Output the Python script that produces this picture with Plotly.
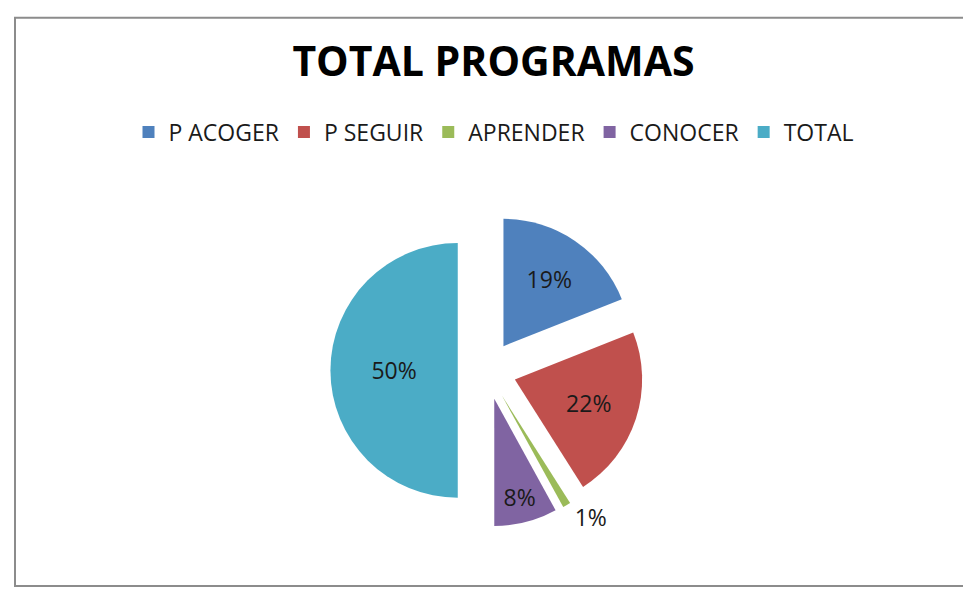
import plotly.graph_objects as go

# slice data
categorias = ["P ACOGER", "P SEGUIR", "APRENDER", "CONOCER", "TOTAL"]
valores = [19, 22, 1, 8, 50]
colores = ["#4F81BD", "#C0504D", "#9BBB59", "#8064A2", "#4BACC6"]
posiciones = ["inside", "inside", "outside", "inside", "inside"]

W, H = 971, 589

fig = go.Figure()

fig.add_trace(
    go.Pie(
        labels=categorias,
        values=valores,
        sort=False,
        direction="clockwise",
        rotation=0,
        pull=[0.23] * len(valores),
        marker=dict(colors=colores, line=dict(width=0)),
        texttemplate="%{percent:.0%}",
        textposition=posiciones,
        insidetextorientation="horizontal",
        textfont=dict(family="Open Sans", size=23, color="#1a1a1a"),
        outsidetextfont=dict(family="Open Sans", size=23, color="#1a1a1a"),
        domain=dict(x=[320 / W, 638 / W], y=[(H - 527) / H, (H - 209) / H]),
        hoverinfo="label+percent",
    )
)

fig.update_layout(
    width=W,
    height=H,
    margin=dict(l=0, r=0, t=0, b=0),
    paper_bgcolor="white",
    plot_bgcolor="white",
    title=dict(
        text="<b>TOTAL PROGRAMAS</b>",
        x=0.5,
        xanchor="center",
        y=1 - 54 / H,
        yanchor="middle",
        font=dict(family="Open Sans", size=41, color="black"),
    ),
    legend=dict(
        orientation="h",
        x=0.5,
        xanchor="center",
        y=1 - 126 / H,
        yanchor="middle",
        font=dict(family="Open Sans", size=23, color="#1a1a1a"),
        itemwidth=30,
        traceorder="normal",
    ),
    shapes=[
        dict(
            type="rect",
            xref="paper",
            yref="paper",
            x0=7 / W,
            x1=968 / W,
            y0=1 - 587 / H,
            y1=1 - 10 / H,
            line=dict(color="#8c8c8c", width=2),
        )
    ],
)

fig.write_html("out.html")
